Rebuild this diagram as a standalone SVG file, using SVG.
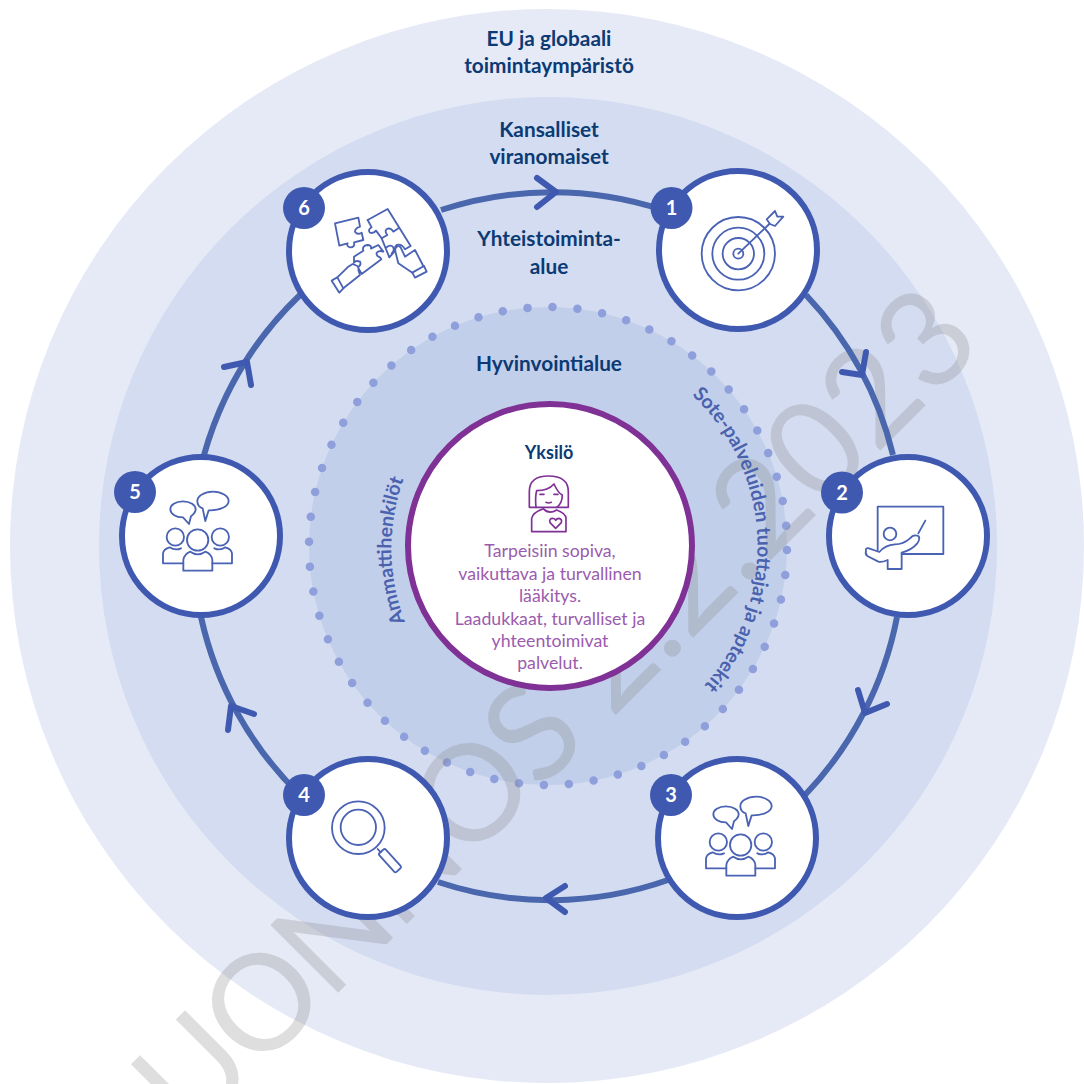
<svg xmlns="http://www.w3.org/2000/svg" xmlns:xlink="http://www.w3.org/1999/xlink" width="1084" height="1084" viewBox="0 0 1084 1084">
<style>
text{font-family:Lato,"Liberation Sans",sans-serif}
.h{font-size:20.800px;font-weight:700;fill:#0B3A74;text-anchor:middle}
.b{font-size:17.700px;fill:#9B5BAE;text-anchor:middle}
.c{font-size:19.500px;font-weight:700;fill:#4A62AE}
.n{font-size:20px;font-weight:700;fill:#fff;text-anchor:middle}
.node{fill:#fff;stroke:#4059B0;stroke-width:6}
.badge{fill:#4059B0;stroke:none}
.arc{fill:none;stroke:#4A67AE;stroke-width:6}
.head{fill:none;stroke:#4059B0;stroke-width:6;stroke-linecap:round;stroke-linejoin:round}
.i{fill:none;stroke:#4A62B4;stroke-width:5.500;stroke-linejoin:round;stroke-linecap:round}
.p{fill:none;stroke:#7F3196;stroke-width:5;stroke-linejoin:round;stroke-linecap:round}
</style>
<defs>
<path id="pt1" d="M405 622A205 205 0 0 1 408 468"/>
<path id="pt2" d="M692 395A208 208 0 0 1 700 690"/>
<g id="people">
<path d="M228 169C205 169 190 180 190 193C190 206 205 217 228 217L246 237L252 214C260 208 266 201 266 193C266 180 250 169 228 169Z"/>
<path d="M318 140C292 140 271 153 271 168C271 178 277 187 287 190L295 228L305 196C340 197 365 184 365 168C365 153 344 140 318 140Z"/>
<circle cx="205" cy="276" r="26"/><circle cx="340" cy="276" r="26"/><circle cx="272" cy="285" r="32"/>
<path d="M229 377V345Q232 327 250 320Q272 336 295 320Q314 327 316 345V377Z"/>
<path d="M229 355H168V325Q170 312 188 307Q205 318 222 310"/>
<path d="M316 355H375V325Q373 312 355 307Q340 318 322 310"/>
</g>
</defs>
<g id="background">
<circle cx="547" cy="546" r="537" fill="#E6EAF6"/>
<circle cx="548" cy="546" r="449" fill="#D3DCF0"/>
<circle cx="548" cy="546" r="239" fill="#C2CFEA"/>
<circle cx="548" cy="546" r="239" fill="none" stroke="#8E9FDB" stroke-width="8.500" stroke-linecap="round" stroke-dasharray="0 25.03" stroke-dashoffset="-4"/>
</g>
<text id="watermark" transform="translate(986 345) rotate(-45)" text-anchor="end" font-size="134" fill="#858585" fill-opacity=".27"><tspan letter-spacing="-5">LUONNOS</tspan> 2.2.2023</text>
<g id="connectors">
<path class="arc" d="M441 210A355 355 0 0 1 663 210"/>
<path class="arc" d="M806 295A355 355 0 0 1 893 455"/>
<path class="arc" d="M897 617A355 355 0 0 1 805 795"/>
<path class="arc" d="M668 880A355 355 0 0 1 438 882"/>
<path class="arc" d="M300 795A355 355 0 0 1 201 617"/>
<path class="arc" d="M204 455A355 355 0 0 1 300 295"/>
<path class="head" d="M537 178L556 192L537 207"/>
<path class="head" d="M866 352L862 375L842 372"/>
<path class="head" d="M858 690L865 713L887 704"/>
<path class="head" d="M565 886L546 898L565 912"/>
<path class="head" d="M254 714L231 706L228 730"/>
<path class="head" d="M224 367L247 362L251 385"/>
</g>
<g id="labels">
<text class="h" x="549" y="46">EU ja globaali</text>
<text class="h" x="549" y="73">toimintaympäristö</text>
<text class="h" x="549" y="137">Kansalliset</text>
<text class="h" x="549" y="164">viranomaiset</text>
<text class="h" x="549" y="246">Yhteistoiminta-</text>
<text class="h" x="549" y="274">alue</text>
<text class="h" x="549" y="371">Hyvinvointialue</text>
<text class="c"><textPath href="#pt1">Ammattihenkilöt</textPath></text>
<text class="c"><textPath href="#pt2">Sote-palveluiden tuottajat ja apteekit</textPath></text>
</g>
<g id="center">
<circle cx="550" cy="546" r="142" fill="#fff" stroke="#7F3196" stroke-width="6"/>
<text x="549" y="459" font-size="18" font-weight="700" fill="#0B3A74" text-anchor="middle">Yksilö</text>
<g transform="translate(400 400) scale(.3333)" class="p">
<path d="M388 322V275Q388 228 445 228Q505 228 505 275V322H388"/>
<path d="M408 322Q405 290 410 272Q445 272 462 252Q475 280 487 285Q487 310 470 322"/>
<path d="M420 283H432M462 283H474M438 307Q446 311 454 307"/>
<path d="M395 395V355Q398 338 430 326Q447 345 470 330Q498 340 498 355V395Z"/>
<path d="M467 385L450 368Q447 355 458 355Q465 355 467 361Q470 355 477 355Q487 357 484 368Z"/>
</g>
<text class="b" x="550" y="557">Tarpeisiin sopiva,</text>
<text class="b" x="550" y="580">vaikuttava ja turvallinen</text>
<text class="b" x="550" y="602">lääkitys.</text>
<text class="b" x="550" y="625">Laadukkaat, turvalliset ja</text>
<text class="b" x="550" y="647">yhteentoimivat</text>
<text class="b" x="550" y="669">palvelut.</text>
</g>
<g id="node1">
<circle class="node" cx="738" cy="250" r="79"/>
<g transform="translate(640 160) scale(.3333)" class="i">
<circle cx="295" cy="281" r="110"/><circle cx="295" cy="281" r="78"/><circle cx="295" cy="281" r="47"/><circle cx="295" cy="281" r="15"/>
<path d="M295 281L388 192"/>
<path d="M380 178L405 153L412 170L430 170L405 198L390 192Z"/>
</g>
<circle class="badge" cx="671.500" cy="208" r="21"/><text class="n" x="671.500" y="215">1</text>
</g>
<g id="node2">
<circle class="node" cx="908" cy="536" r="79"/>
<g transform="translate(820 450) scale(.3333)" class="i">
<path d="M173 300V170H370V312H245"/>
<path d="M295 250L316 212"/>
<circle cx="210" cy="252" r="19"/>
<path d="M138 303Q135 293 147 295L178 306Q195 285 225 283Q250 283 270 265Q280 252 295 258Q302 265 292 280Q275 300 245 308V357H203V330Q185 338 175 335L142 318Q135 312 138 303Z"/>
</g>
<circle class="badge" cx="842" cy="492.500" r="21"/><text class="n" x="842" y="499.500">2</text>
</g>
<g id="node3">
<circle class="node" cx="737" cy="838" r="79"/>
<use href="#people" class="i" transform="translate(650 750) scale(.3333)"/>
<circle class="badge" cx="671" cy="795" r="21"/><text class="n" x="671" y="802">3</text>
</g>
<g id="node4">
<circle class="node" cx="368" cy="838" r="79"/>
<g transform="translate(280 750) scale(.3333)" class="i">
<circle cx="235" cy="233" r="79"/><circle cx="235" cy="232" r="53"/>
<path d="M293 297L302 307"/>
<rect x="-38" y="-13" width="76" height="26" rx="5" transform="translate(330 332) rotate(48)"/>
</g>
<circle class="badge" cx="304" cy="795" r="21"/><text class="n" x="304" y="802">4</text>
</g>
<g id="node5">
<circle class="node" cx="201" cy="536" r="79"/>
<use href="#people" class="i" transform="translate(107 445) scale(.3333)"/>
<circle class="badge" cx="135" cy="492" r="21"/><text class="n" x="135" y="499">5</text>
</g>
<g id="node6">
<circle class="node" cx="368" cy="251" r="79"/>
<g transform="translate(280 160) scale(.3333)" class="i">
<path d="M165 190L235 173L240 200Q225 205 225 215Q232 226 245 218L250 240L222 247Q226 262 210 262Q198 258 203 250L178 257Z"/>
<path d="M263 180L323 147L392 258L375 268Q365 250 350 255Q342 262 346 272L328 292L305 235"/>
<path d="M263 180L275 202Q262 210 270 218Q280 222 288 212L305 235L322 225Q310 210 325 205Q335 205 340 215L355 205"/>
<path d="M320 262Q332 252 340 262Q344 272 335 280"/>
<path d="M222 290L250 272Q245 258 262 255Q275 255 273 266L295 255L310 275Q300 270 290 278Q288 288 300 292L304 298L245 342L234 322Q245 315 240 305Q228 300 222 308Z"/>
<path d="M155 362L172 352L190 385L178 398Z"/>
<path d="M172 352L205 320L218 312L232 318M235 330L240 345L190 385"/>
<path d="M397 338L432 318L440 335L405 353Z"/>
<path d="M397 338L355 310L345 270Q350 252 362 262L375 290L405 270L430 318"/>
</g>
<circle class="badge" cx="304" cy="208" r="21"/><text class="n" x="304" y="215">6</text>
</g>
</svg>
